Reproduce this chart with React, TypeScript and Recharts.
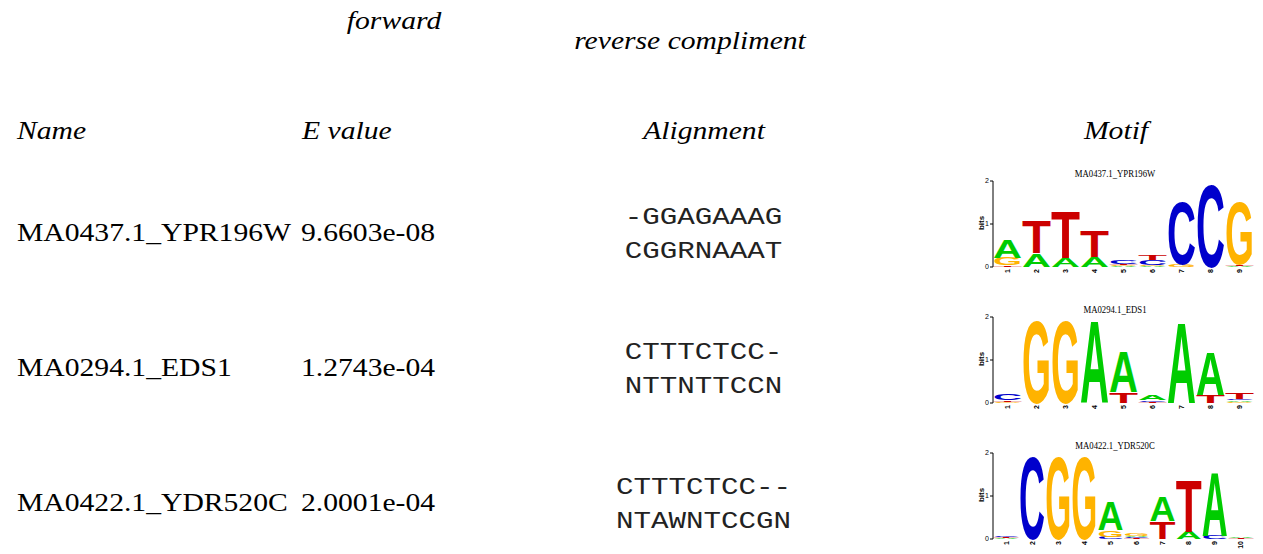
import React from "react";
import { BarChart, Bar, XAxis, YAxis } from "recharts";

type Col = [string, number][];

const NAMES = ["MA0437.1_YPR196W", "MA0294.1_EDS1", "MA0422.1_YDR520C"];
const E_VALUES = ["9.6603e-08", "1.2743e-04", "2.0001e-04"];
const FORWARD = ["-GGAGAAAG", "CTTTCTCC-", "CTTTCTCC--"];
const REVERSE = ["CGGRNAAAT", "NTTNTTCCN", "NTAWNTCCGN"];
const BIT_TICKS = [0, 1, 2];

// letter heights in bits, listed bottom to top for each position
const YPR196W: Col[] = [
  [["T", 0.04], ["G", 0.17], ["A", 0.42]],
  [["A", 0.32], ["T", 0.76]],
  [["A", 0.22], ["T", 1.1]],
  [["A", 0.23], ["T", 0.6]],
  [["A", 0.02], ["G", 0.02], ["T", 0.04], ["C", 0.09]],
  [["A", 0.02], ["G", 0.03], ["C", 0.12], ["T", 0.13]],
  [["G", 0.07], ["C", 1.48]],
  [["C", 1.94]],
  [["A", 0.02], ["T", 0.04], ["G", 1.48]],
];

const EDS1: Col[] = [
  [["G", 0.03], ["T", 0.04], ["C", 0.14]],
  [["G", 1.95]],
  [["G", 1.95]],
  [["A", 1.94]],
  [["T", 0.25], ["A", 0.95]],
  [["T", 0.02], ["C", 0.04], ["A", 0.11]],
  [["A", 1.93]],
  [["T", 0.19], ["A", 1.03]],
  [["G", 0.03], ["A", 0.03], ["C", 0.04], ["T", 0.15]],
];

const YDR520C: Col[] = [
  [["A", 0.02], ["T", 0.02], ["C", 0.03]],
  [["C", 1.95]],
  [["G", 1.93]],
  [["G", 1.93]],
  [["C", 0.05], ["G", 0.15], ["A", 0.68]],
  [["T", 0.02], ["C", 0.02], ["A", 0.02], ["G", 0.05]],
  [["T", 0.41], ["A", 0.59]],
  [["A", 0.17], ["T", 1.24]],
  [["C", 0.08], ["A", 1.52]],
  [["T", 0.02], ["A", 0.02]],
];

const LOGOS = [YPR196W, EDS1, YDR520C];

const COLORS: Record<string, string> = {
  A: "#00cc00",
  C: "#0000cc",
  G: "#ffb300",
  T: "#cc0000",
};

const SLOTS = [0, 1, 2, 3];
const SERIF = "'Liberation Serif', 'Times New Roman', serif";
const MONO = "'Liberation Mono', 'Courier New', monospace";
const SANS = "'Liberation Sans', Arial, sans-serif";

const toRows = (cols: Col[]) =>
  cols.map((c, i) => {
    const row: Record<string, number | string> = { pos: String(i + 1) };
    c.forEach(([l, h], k) => {
      row[`h${k}`] = h;
      row[`l${k}`] = l;
    });
    return row;
  });

// glyph stretched to fill the bar's rect
const Letter = (props: any) => {
  const { x, y, width, height, letter } = props;
  if (!letter || !height || height <= 0) return null;
  const sx = width / 72;
  const sy = height / 71.6;
  return (
    <text
      transform={`translate(${x} ${y + height}) scale(${sx} ${sy})`}
      x={0}
      y={0}
      fontSize={100}
      fontFamily={SANS}
      fontWeight="bold"
      fill={COLORS[letter]}
      textLength={72}
      lengthAdjust="spacingAndGlyphs"
    >
      {letter}
    </text>
  );
};

const PosTick = (props: any) => {
  const { x, y, payload } = props;
  return (
    <text
      x={x}
      y={y}
      transform={`rotate(-90 ${x} ${y})`}
      textAnchor="end"
      dominantBaseline="central"
      fontSize={7}
      fontFamily={SANS}
      fontWeight="bold"
      fill="#000"
    >
      {payload.value}
    </text>
  );
};

function Logo({ cols }: { cols: Col[] }) {
  const data = toRows(cols);
  return (
    <BarChart
      width={284}
      height={120}
      data={data}
      margin={{ top: 18, right: 6, bottom: 0, left: 0 }}
      barCategoryGap={0}
      barGap={0}
    >
      <XAxis
        dataKey="pos"
        axisLine={false}
        tickLine={false}
        tickSize={0}
        tickMargin={2}
        interval={0}
        height={16}
        tick={<PosTick />}
      />
      <YAxis
        domain={[0, 2]}
        ticks={BIT_TICKS}
        width={17}
        tickSize={3}
        tickMargin={1}
        axisLine={{ stroke: "#000" }}
        tickLine={{ stroke: "#000" }}
        tick={{ fontSize: 7, fill: "#000", fontFamily: SANS }}
      />
      {SLOTS.map((k) => (
        <Bar
          key={k}
          dataKey={`h${k}`}
          stackId="logo"
          isAnimationActive={false}
          shape={(p: any) => <Letter {...p} letter={p.payload?.[`l${k}`]} />}
        />
      ))}
    </BarChart>
  );
}

const ROW_STEP = 135;
const LOGO_TOPS = [163, 299, 435];

function Serif({ x, y, anchor = "start", size = 26, italic = false, sx = 1.14, children }: any) {
  return (
    <text
      transform={`translate(${x} ${y}) scale(${sx} 1)`}
      textAnchor={anchor}
      fontSize={size}
      fontStyle={italic ? "italic" : "normal"}
      fontFamily={SERIF}
      fill="#000"
    >
      {children}
    </text>
  );
}

function Mono({ x, y, children }: any) {
  return (
    <text
      transform={`translate(${x} ${y}) scale(1.27 1)`}
      textAnchor="middle"
      fontSize={23}
      fontFamily={MONO}
      fill="#222"
    >
      {children}
    </text>
  );
}

export default function App() {
  return (
    <div style={{ position: "absolute", left: 0, top: 0, width: 1263, height: 554, background: "#fff" }}>
      <svg width={1263} height={554} style={{ position: "absolute", left: 0, top: 0 }}>
        <Serif x={394} y={29} anchor="middle" italic>forward</Serif>
        <Serif x={690} y={49} anchor="middle" italic>reverse compliment</Serif>
        <Serif x={17} y={139} italic>Name</Serif>
        <Serif x={302} y={139} italic>E value</Serif>
        <Serif x={704} y={139} anchor="middle" italic>Alignment</Serif>
        <Serif x={1116} y={139} anchor="middle" italic>Motif</Serif>
        {NAMES.map((n, i) => {
          const mid = 232 + i * ROW_STEP;
          return (
            <g key={n}>
              <Serif x={17} y={mid + 8.6}>{n}</Serif>
              <Serif x={301} y={mid + 8.6}>{E_VALUES[i]}</Serif>
              <Mono x={703.5} y={mid - 16 + 7.6}>{FORWARD[i]}</Mono>
              <Mono x={703.5} y={mid + 18 + 7.6}>{REVERSE[i]}</Mono>
              <Serif x={1115} y={LOGO_TOPS[i] + 13.5} anchor="middle" size={10} sx={0.87}>{n}</Serif>
              <text
                transform={`translate(984 ${LOGO_TOPS[i] + 60}) rotate(-90)`}
                textAnchor="middle"
                fontSize={8}
                fontFamily={SANS}
                fontWeight="bold"
                fill="#000"
              >
                bits
              </text>
            </g>
          );
        })}
      </svg>
      {LOGOS.map((cols, i) => (
        <div key={i} style={{ position: "absolute", left: 976, top: LOGO_TOPS[i] }}>
          <Logo cols={cols} />
        </div>
      ))}
    </div>
  );
}
